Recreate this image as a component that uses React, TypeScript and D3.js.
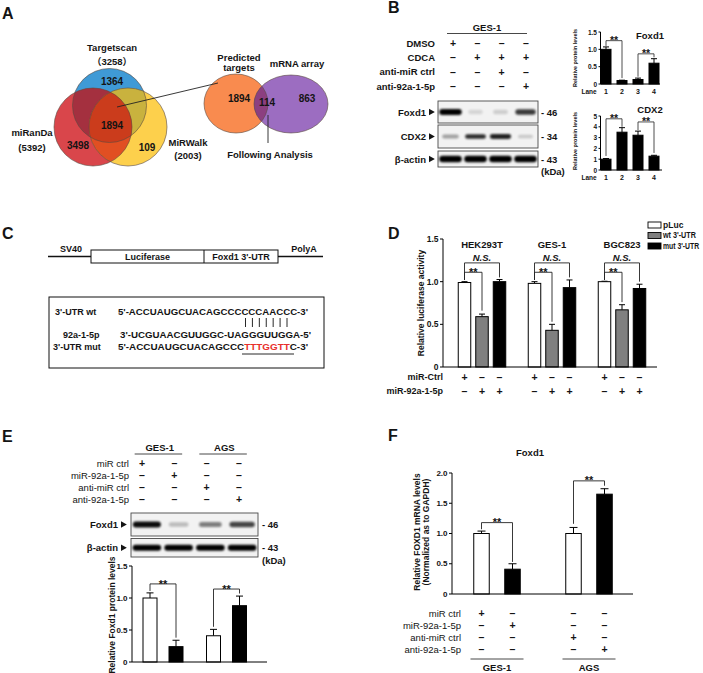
import React from 'react';
import * as d3 from 'd3';

const FF = "'Liberation Sans', Arial, Helvetica, 'Noto Sans CJK SC', sans-serif";
const INK = '#141414';

// ---------------- DATA ----------------
// Panel A
const vennLabels = ['Targetscan', 'miRanDa', 'MiRWalk'];
const vennTotals = ['（3258）', '(5392)', '(2003)'];
const vennRegionCounts = [1364, 3498, 109, 1894]; // TS only, miRanDa only, MiRWalk only, common
const secondVennLabels = ['Predicted', 'targets', 'mRNA array'];
const secondVennCounts = [1894, 114, 863];
const followText = 'Following Analysis';

// Panel B
const bLanes = [1, 2, 3, 4];
const bRows = ['DMSO', 'CDCA', 'anti-miR ctrl', 'anti-92a-1-5p'];
const bSigns = [
  ['+', '–', '–', '–'],
  ['–', '+', '+', '+'],
  ['–', '–', '+', '–'],
  ['–', '–', '–', '+'],
];
const bBlotLabels = ['Foxd1', 'CDX2', 'β-actin'];
const bBlotKda = ['- 46', '- 34', '- 43'];
const bBandFoxd1 = [1.0, 0.07, 0.1, 0.75];
const bBandCdx2 = [0.3, 0.8, 0.85, 0.12];
const bBandActin = [1, 1, 1, 1];
const bFoxd1Mean = [1.0, 0.1, 0.13, 0.6];
const bFoxd1Err = [0.07, 0.01, 0.04, 0.13];
const bFoxd1Ticks = [0, 0.5, 1.0, 1.5];
const bCdx2Mean = [1.0, 3.5, 3.22, 1.28];
const bCdx2Err = [0.06, 0.42, 0.38, 0.08];
const bCdx2Ticks = [0, 1, 2, 3, 4, 5];
const bFoxd1Sig = [
  { a: 0, b: 1, level: 1.25, ea: 1.1, eb: 0.17, label: '**' },
  { a: 2, b: 3, level: 0.87, ea: 0.21, eb: 0.77, label: '**' },
];
const bCdx2Sig = [
  { a: 0, b: 1, level: 4.74, ea: 1.3, eb: 4.0, label: '**' },
  { a: 2, b: 3, level: 4.45, ea: 3.7, eb: 1.58, label: '**' },
];

// Panel C
const cConstruct = ['SV40', 'Luciferase', "Foxd1 3'-UTR", 'PolyA'];
const cSeqLabels = ["3'-UTR wt", '92a-1-5p', "3'-UTR mut"];
const cSeqWt = "5'-ACCUAUGCUACAGCCCCCCAACCC-3'";
const cSeqMir = "3'-UCGUAACGUUGGC-UAGGGUUGGA-5'";
const cSeqMut = ["5'-ACCUAUGCUACAGCCC", 'TTTGGTT', "C-3'"];
const cPairs = 7;

// Panel D
const dGroups = ['HEK293T', 'GES-1', 'BGC823'];
const dSeries = ['pLuc', "wt 3'-UTR", "mut 3'-UTR"];
const dFills = ['#ffffff', '#808080', '#000000'];
const dMeans = [
  [0.99, 0.59, 1.0],
  [0.98, 0.43, 0.93],
  [1.0, 0.67, 0.92],
];
const dErrs = [
  [0.01, 0.03, 0.025],
  [0.02, 0.07, 0.09],
  [0.005, 0.06, 0.05],
];
const dTicks = [0, 0.5, 1.0, 1.5];
const dRows = ['miR-Ctrl', 'miR-92a-1-5p'];
const dSigns = [
  ['+', '–', '–'],
  ['–', '+', '+'],
];
const dSigStar = [0.66, 0.53, 0.76];
const dSigNS = [1.05, 1.05, 1.0];

// Panel E
const eCells = ['GES-1', 'AGS'];
const eConds = ['ctrl', 'treat'];
const eRows = ['miR ctrl', 'miR-92a-1-5p', 'anti-miR ctrl', 'anti-92a-1-5p'];
const eSigns = [
  ['+', '–', '–', '–'],
  ['–', '+', '–', '–'],
  ['–', '–', '+', '–'],
  ['–', '–', '–', '+'],
];
const eBlotLabels = ['Foxd1', 'β-actin'];
const eBlotKda = ['- 46', '- 43'];
const eBandFoxd1 = [0.95, 0.18, 0.45, 0.7];
const eBandActin = [1, 1, 1, 1];
const eMeans = [1.0, 0.24, 0.41, 0.88];
const eErrs = [0.08, 0.1, 0.1, 0.15];
const eTicks = [0, 0.5, 1.0, 1.5];
const eSig = [
  { a: 0, b: 1, level: 1.22, ea: 1.11, eb: 0.38, label: '**' },
  { a: 2, b: 3, level: 1.14, ea: 0.55, eb: 1.07, label: '**' },
];

// Panel F
const fMeans = [1.0, 0.41, 1.0, 1.65];
const fErrs = [0.04, 0.09, 0.1, 0.09];
const fTicks = [0, 0.5, 1.0, 1.5, 2.0];
const fSig = [
  { a: 0, b: 1, level: 1.18, ea: 1.07, eb: 0.53, label: '**' },
  { a: 2, b: 3, level: 1.87, ea: 1.16, eb: 1.79, label: '**' },
];
const barFillsWB = ['#ffffff', '#000000', '#ffffff', '#000000'];

// ---------------- HELPERS ----------------
const fmt1 = (t: number) => (t === 0 ? '0' : d3.format('.1f')(t));
const fmtI = (t: number) => d3.format('d')(t);

function T(p: any) {
  const { x, y, s = 9, a = 'middle', w = 'bold', fill = INK, it = false, rot = 0, tl, children } = p;
  return (
    <text
      x={x}
      y={y}
      fontSize={s}
      textAnchor={a}
      fontWeight={w}
      fill={fill}
      fontStyle={it ? 'italic' : 'normal'}
      dominantBaseline="central"
      transform={rot ? `rotate(${rot} ${x} ${y})` : undefined}
      textLength={tl}
      lengthAdjust={tl ? 'spacingAndGlyphs' : undefined}
    >
      {children}
    </text>
  );
}

function YAxis({ x, y, ticks, fmt, s, len = 3 }: any) {
  const [r0, r1] = y.range();
  return (
    <g>
      <line x1={x} x2={x} y1={r0} y2={r1} stroke="#000" strokeWidth={1} />
      {ticks.map((t: number) => (
        <g key={t}>
          <line x1={x - len} x2={x} y1={y(t)} y2={y(t)} stroke="#000" strokeWidth={1} />
          <T x={x - len - 1.5} y={y(t)} s={s} a="end">
            {fmt(t)}
          </T>
        </g>
      ))}
    </g>
  );
}

function Bars({ xs, means, errs, fills, y, w, cap, sw = 1 }: any) {
  return (
    <g>
      {means.map((m: number, i: number) => {
        const x = xs[i];
        const top = y(m);
        const et = y(m + errs[i]);
        return (
          <g key={i}>
            <line x1={x} x2={x} y1={top} y2={et} stroke="#000" strokeWidth={sw} />
            <line x1={x - cap / 2} x2={x + cap / 2} y1={et} y2={et} stroke="#000" strokeWidth={sw} />
            <rect x={x - w / 2} y={top} width={w} height={y(0) - top} fill={fills[i]} stroke="#000" strokeWidth={sw} />
          </g>
        );
      })}
    </g>
  );
}

function Brackets({ sig, xs, y, s = 11, sw = 0.9, ns = 9 }: any) {
  return (
    <g>
      {sig.map((k: any, i: number) => {
        const x1 = xs[k.a];
        const x2 = xs[k.b];
        const yl = y(k.level);
        const isNs = k.label !== '**';
        return (
          <g key={i}>
            <path d={`M${x1},${y(k.ea)}V${yl}H${x2}V${y(k.eb)}`} fill="none" stroke="#222" strokeWidth={sw} />
            {isNs ? (
              <T x={(x1 + x2) / 2} y={yl - ns * 0.55} s={ns} it>
                {k.label}
              </T>
            ) : (
              <T x={(x1 + x2) / 2} y={yl - 1.3 + s * 0.08} s={s}>
                {k.label}
              </T>
            )}
          </g>
        );
      })}
    </g>
  );
}

function Blot({ x0, x1, y0, y1, lanes, bands, bh }: any) {
  const xb = d3.scaleBand<number>().domain(lanes).range([x0, x1]).paddingInner(0.1).paddingOuter(0.05);
  const cy = (y0 + y1) / 2;
  return (
    <g>
      <rect x={x0} y={y0} width={x1 - x0} height={y1 - y0} fill="#f2f2f2" stroke="#4a4a4a" strokeWidth={0.9} />
      {bands.map((v: number, i: number) => {
        const bw = xb.bandwidth() * (0.62 + 0.38 * v);
        const cx = (xb(lanes[i]) as number) + xb.bandwidth() / 2;
        const h = bh * (0.7 + 0.3 * v);
        return (
          <rect key={i} x={cx - bw / 2} y={cy - h / 2} width={bw} height={h} rx={h / 2} fill="#000" opacity={Math.min(1, v * 0.95 + 0.05)} filter="url(#blur)" />
        );
      })}
    </g>
  );
}

function Arrow({ x, y, s = 6 }: any) {
  return <path d={`M${x},${y - s / 2}L${x + s * 0.9},${y}L${x},${y + s / 2}Z`} fill={INK} />;
}

function SignTable({ rows, signs, labelX, ys, xs, s = 9, w = 'bold', ss = 10 }: any) {
  return (
    <g>
      {rows.map((r: string, i: number) => (
        <g key={r}>
          <T x={labelX} y={ys[i]} s={s} a="end" w={w}>
            {r}
          </T>
          {signs[i].map((g: string, j: number) => (
            <T key={j} x={xs[j]} y={ys[i]} s={ss}>
              {g}
            </T>
          ))}
        </g>
      ))}
    </g>
  );
}

// ---------------- PANELS ----------------
function PanelA() {
  const ts = { cx: 109.5, cy: 105.5, r: 37 };
  const mr = { cx: 93, cy: 127, r: 39 };
  const mw = { cx: 128, cy: 127, r: 39 };
  const o1 = { cx: 236, cy: 103.5, rx: 32, ry: 29.5 };
  const o2 = { cx: 291, cy: 104, rx: 37, ry: 29 };
  return (
    <g>
      <defs>
        <clipPath id="cTs"><circle {...ts} /></clipPath>
        <clipPath id="cMr"><circle {...mr} /></clipPath>
        <clipPath id="cO1"><ellipse {...o1} /></clipPath>
      </defs>
      <T x={2} y={13} s={16} a="start">A</T>
      <circle {...ts} fill="#3f9ad6" />
      <circle {...mr} fill="#d9464b" />
      <circle {...mw} fill="#fdd04c" />
      <g clipPath="url(#cTs)">
        <circle {...mr} fill="#a4303f" />
        <circle {...mw} fill="#c9b23e" />
      </g>
      <g clipPath="url(#cMr)">
        <circle {...mw} fill="#e14f22" />
      </g>
      <g clipPath="url(#cTs)">
        <g clipPath="url(#cMr)">
          <circle {...mw} fill="#cb3c1c" />
        </g>
      </g>
      <circle {...ts} fill="none" stroke="#5a4a40" strokeWidth={0.6} />
      <circle {...mr} fill="none" stroke="#5a4a40" strokeWidth={0.6} />
      <circle {...mw} fill="none" stroke="#5a4a40" strokeWidth={0.6} />

      <T x={112} y={47} s={9.5}>{vennLabels[0]}</T>
      <T x={112} y={61} s={9.5}>{vennTotals[0]}</T>
      <T x={32} y={132} s={9.5}>{vennLabels[1]}</T>
      <T x={32} y={147} s={9.5}>{vennTotals[1]}</T>
      <T x={188} y={142} s={9.5}>{vennLabels[2]}</T>
      <T x={188} y={155} s={9.5}>{vennTotals[2]}</T>
      <T x={112} y={81} s={10}>{vennRegionCounts[0]}</T>
      <T x={78} y={145} s={10}>{vennRegionCounts[1]}</T>
      <T x={147} y={147} s={10}>{vennRegionCounts[2]}</T>
      <T x={112} y={125} s={10}>{vennRegionCounts[3]}</T>

      <ellipse {...o1} fill="#f98b4f" />
      <ellipse {...o2} fill="#9c6dc1" />
      <g clipPath="url(#cO1)">
        <ellipse {...o2} fill="#8c3f80" />
      </g>
      <ellipse {...o1} fill="none" stroke="#5a4a40" strokeWidth={0.6} />
      <ellipse {...o2} fill="none" stroke="#5a4a40" strokeWidth={0.6} />
      <line x1={117} y1={107} x2={218} y2={83} stroke="#222" strokeWidth={0.9} />
      <line x1={268} y1={115} x2={268} y2={143} stroke="#222" strokeWidth={0.9} />
      <T x={239} y={57} s={9.5}>{secondVennLabels[0]}</T>
      <T x={239} y={67} s={9.5}>{secondVennLabels[1]}</T>
      <T x={297} y={63} s={9.5}>{secondVennLabels[2]}</T>
      <T x={239} y={98} s={10}>{secondVennCounts[0]}</T>
      <T x={267} y={102} s={10}>{secondVennCounts[1]}</T>
      <T x={307} y={98} s={10}>{secondVennCounts[2]}</T>
      <T x={270} y={154} s={9.5}>{followText}</T>
    </g>
  );
}

function PanelB() {
  const colX = d3.scalePoint<number>().domain(bLanes).range([453, 526]);
  const rowY = d3.scalePoint<string>().domain(bRows).range([43, 86]);
  const blotY = [[101, 123], [125, 148], [151, 167]];
  const blotBands = [bBandFoxd1, bBandCdx2, bBandActin];
  const blotBh = [6, 5, 6.5];
  const laneX = d3.scalePoint<number>().domain(bLanes).range([606, 654]);
  const xs = bLanes.map((l) => laneX(l) as number);
  const yF = d3.scaleLinear().domain([0, 1.5]).range([84, 32]);
  const yC = d3.scaleLinear().domain([0, 5]).range([170, 116]);
  return (
    <g>
      <T x={388} y={7.5} s={16} a="start">B</T>
      <T x={487} y={27} s={9.5}>GES-1</T>
      <line x1={447} x2={527} y1={33.5} y2={33.5} stroke="#333" strokeWidth={0.9} />
      <SignTable rows={bRows} signs={bSigns} labelX={435} ys={bRows.map((r) => rowY(r))} xs={bLanes.map((l) => colX(l))} s={9.5} ss={10.5} />
      {blotY.map((yy, i) => {
        const cy = (yy[0] + yy[1]) / 2;
        return (
          <g key={i}>
            <Blot x0={438} x1={538} y0={yy[0]} y1={yy[1]} lanes={bLanes} bands={blotBands[i]} bh={blotBh[i]} />
            <T x={426} y={cy} s={9.5} a="end">{bBlotLabels[i]}</T>
            <Arrow x={429} y={cy} s={6.5} />
            <T x={541} y={cy} s={9.5} a="start">{bBlotKda[i]}</T>
          </g>
        );
      })}
      <T x={541} y={171} s={9.5} a="start">(kDa)</T>

      {/* Foxd1 chart */}
      <T x={650} y={35} s={9.5}>Foxd1</T>
      <T x={575} y={58} s={5.5} rot={-90}>Relative protein levels</T>
      <Bars xs={xs} means={bFoxd1Mean} errs={bFoxd1Err} fills={['#000', '#000', '#000', '#000']} y={yF} w={10} cap={6} />
      <YAxis x={600.5} y={yF} ticks={bFoxd1Ticks} fmt={fmt1} s={6.5} len={2} />
      <line x1={600.5} x2={660} y1={84} y2={84} stroke="#000" strokeWidth={1} />
      <Brackets sig={bFoxd1Sig} xs={xs} y={yF} s={10.5} sw={0.8} />
      <T x={589} y={91.5} s={6.5}>Lane</T>
      {bLanes.map((l, i) => (
        <T key={l} x={xs[i]} y={91.5} s={7}>{l}</T>
      ))}

      {/* CDX2 chart */}
      <T x={650} y={109} s={9.5}>CDX2</T>
      <T x={575} y={141} s={5.5} rot={-90}>Relative protein levels</T>
      <Bars xs={xs} means={bCdx2Mean} errs={bCdx2Err} fills={['#000', '#000', '#000', '#000']} y={yC} w={10} cap={6} />
      <YAxis x={600.5} y={yC} ticks={bCdx2Ticks} fmt={fmtI} s={6.5} len={2} />
      <line x1={600.5} x2={662} y1={170} y2={170} stroke="#000" strokeWidth={1} />
      <Brackets sig={bCdx2Sig} xs={xs} y={yC} s={10.5} sw={0.8} />
      <T x={589} y={177.5} s={6.5}>Lane</T>
      {bLanes.map((l, i) => (
        <T key={l} x={xs[i]} y={177.5} s={7}>{l}</T>
      ))}
    </g>
  );
}

function PanelC() {
  const pairX = d3.scalePoint<number>().domain(d3.range(cPairs)).range([245.5, 287]);
  return (
    <g>
      <T x={2} y={233} s={16} a="start">C</T>
      <line x1={48} x2={323} y1={256.5} y2={256.5} stroke="#111" strokeWidth={1.4} />
      <rect x={91} y={250} width={187} height={13} fill="#fff" stroke="#111" strokeWidth={1} />
      <line x1={204} x2={204} y1={250} y2={263} stroke="#111" strokeWidth={1} />
      <T x={71} y={248.5} s={9}>{cConstruct[0]}</T>
      <T x={147.5} y={256.8} s={9}>{cConstruct[1]}</T>
      <T x={241} y={257} s={9}>{cConstruct[2]}</T>
      <T x={304} y={248.5} s={9}>{cConstruct[3]}</T>

      <rect x={49} y={297} width={275} height={71} fill="#fff" stroke="#111" strokeWidth={1} />
      <T x={55} y={312} s={9} a="start">{cSeqLabels[0]}</T>
      <T x={118} y={312} s={9} a="start" tl={190}>{cSeqWt}</T>
      {d3.range(cPairs).map((i) => (
        <line key={i} x1={pairX(i)} x2={pairX(i)} y1={318} y2={327} stroke="#111" strokeWidth={0.9} />
      ))}
      <T x={63} y={335} s={9} a="start">{cSeqLabels[1]}</T>
      <T x={120} y={335} s={9} a="start" tl={191}>{cSeqMir}</T>
      <T x={53} y={347} s={9} a="start">{cSeqLabels[2]}</T>
      <text x={118} y={347} fontSize={9} fontWeight="bold" fill={INK} dominantBaseline="central" textLength={190} lengthAdjust="spacingAndGlyphs">
        <tspan>{cSeqMut[0]}</tspan>
        <tspan fill="#e8302c">{cSeqMut[1]}</tspan>
        <tspan>{cSeqMut[2]}</tspan>
      </text>
      <line x1={242} x2={294} y1={354} y2={354} stroke="#111" strokeWidth={0.9} />
    </g>
  );
}

function PanelD() {
  const y = d3.scaleLinear().domain([0, 1.5]).range([367, 239]);
  const gx = d3.scalePoint<string>().domain(dGroups).range([482, 622]);
  const sx = d3.scalePoint<string>().domain(dSeries).range([-17.5, 17.5]);
  const legScale = [0.95, 0.8, 0.76];
  return (
    <g>
      <T x={388} y={233} s={16} a="start">D</T>
      {dSeries.map((s, i) => {
        const ly = 225 + i * 10.5;
        return (
          <g key={s}>
            <rect x={648} y={ly - 3} width={13} height={6} fill={dFills[i]} stroke="#000" strokeWidth={0.9} />
            <g transform={`translate(663,${ly}) scale(${legScale[i]},1)`}>
              <T x={0} y={0} s={9} a="start">{s}</T>
            </g>
          </g>
        );
      })}
      <T x={421} y={303} s={8.5} rot={-90}>Relative luciferase activity</T>
      {dGroups.map((g, gi) => {
        const xs = dSeries.map((s) => (gx(g) as number) + (sx(s) as number));
        const sig = [
          { a: 0, b: 1, level: 1.11, ea: 1.02, eb: dSigStar[gi], label: '**' },
          { a: 0, b: 2, level: 1.22, ea: 1.02, eb: dSigNS[gi], label: 'N.S.' },
        ];
        return (
          <g key={g}>
            <T x={gx(g)} y={244} s={9.5}>{g}</T>
            <Bars xs={xs} means={dMeans[gi]} errs={dErrs[gi]} fills={dFills} y={y} w={12.5} cap={6} />
            <Brackets sig={sig} xs={xs} y={y} s={11} sw={0.9} ns={9.5} />
            {dRows.map((r, ri) =>
              dSigns[ri].map((sg, j) => (
                <T key={r + j} x={xs[j]} y={377 + ri * 14} s={10.5}>{sg}</T>
              ))
            )}
          </g>
        );
      })}
      <YAxis x={443} y={y} ticks={dTicks} fmt={fmt1} s={8.5} />
      <line x1={443} x2={657} y1={367} y2={367} stroke="#000" strokeWidth={1} />
      {dRows.map((r, ri) => (
        <T key={r} x={443} y={377 + ri * 14} s={9} a="end">{r}</T>
      ))}
    </g>
  );
}

function PanelE() {
  const lanes = [0, 1, 2, 3];
  const colX = d3.scalePoint<number>().domain(lanes).range([142, 239]);
  const rowY = d3.scalePoint<string>().domain(eRows).range([463, 499]);
  const y = d3.scaleLinear().domain([0, 1.5]).range([662, 566]);
  const gx = d3.scalePoint<string>().domain(eCells).range([163, 226.5]);
  const cx = d3.scalePoint<string>().domain(eConds).range([-13, 13]);
  const xs = eCells.flatMap((g) => eConds.map((c) => (gx(g) as number) + (cx(c) as number)));
  const blotY = [[513, 536], [538.5, 557]];
  const blotBands = [eBandFoxd1, eBandActin];
  return (
    <g>
      <T x={2} y={436} s={16} a="start">E</T>
      {eCells.map((c, i) => {
        const mid = ((colX(i * 2) as number) + (colX(i * 2 + 1) as number)) / 2;
        return (
          <g key={c}>
            <T x={mid + 1.5} y={447} s={9.5}>{c}</T>
            <line x1={mid - 23.5} x2={mid + 24} y1={454} y2={454} stroke="#333" strokeWidth={0.9} />
          </g>
        );
      })}
      <SignTable rows={eRows} signs={eSigns} labelX={129} ys={eRows.map((r) => rowY(r))} xs={lanes.map((l) => colX(l))} s={9.5} w="normal" ss={10.5} />
      {blotY.map((yy, i) => {
        const cyy = (yy[0] + yy[1]) / 2;
        return (
          <g key={i}>
            <Blot x0={131} x1={258} y0={yy[0]} y1={yy[1]} lanes={lanes} bands={blotBands[i]} bh={6} />
            <T x={118} y={cyy} s={9.5} a="end">{eBlotLabels[i]}</T>
            <Arrow x={121} y={cyy} s={6.5} />
            <T x={262} y={cyy} s={9.5} a="start">{eBlotKda[i]}</T>
          </g>
        );
      })}
      <T x={262} y={560} s={9.5} a="start">(kDa)</T>
      <T x={111.5} y={615} s={8.5} rot={-90}>Relative Foxd1 protein levels</T>
      <Bars xs={xs} means={eMeans} errs={eErrs} fills={barFillsWB} y={y} w={14} cap={7} />
      <YAxis x={132} y={y} ticks={eTicks} fmt={fmt1} s={8} />
      <line x1={132} x2={267} y1={662} y2={662} stroke="#000" strokeWidth={1} />
      <Brackets sig={eSig} xs={xs} y={y} s={11} sw={0.9} />
    </g>
  );
}

function PanelF() {
  const y = d3.scaleLinear().domain([0, 2]).range([594, 473]);
  const gx = d3.scalePoint<string>().domain(eCells).range([497, 589]);
  const cx = d3.scalePoint<string>().domain(eConds).range([-15.5, 15.5]);
  const xs = eCells.flatMap((g) => eConds.map((c) => (gx(g) as number) + (cx(c) as number)));
  const rowY = d3.scalePoint<string>().domain(eRows).range([613, 649]);
  return (
    <g>
      <T x={388} y={435.5} s={16} a="start">F</T>
      <T x={530} y={452} s={9.5}>Foxd1</T>
      <T x={416.5} y={532} s={8.5} rot={-90}>Relative FOXD1 mRNA levels</T>
      <T x={425.5} y={532} s={8.5} rot={-90}>(Normalized as to GAPDH)</T>
      <Bars xs={xs} means={fMeans} errs={fErrs} fills={barFillsWB} y={y} w={15.5} cap={8} />
      <YAxis x={452} y={y} ticks={fTicks} fmt={fmt1} s={8} />
      <line x1={452} x2={633} y1={594} y2={594} stroke="#000" strokeWidth={1} />
      <Brackets sig={fSig} xs={xs} y={y} s={11} sw={0.9} />
      <SignTable rows={eRows} signs={eSigns} labelX={461} ys={eRows.map((r) => rowY(r))} xs={xs} s={9.5} w="normal" ss={10.5} />
      {eCells.map((c) => (
        <g key={c}>
          <line x1={(gx(c) as number) - 26.5} x2={(gx(c) as number) + 26.5} y1={659} y2={659} stroke="#333" strokeWidth={0.9} />
          <T x={gx(c)} y={667} s={9.5}>{c}</T>
        </g>
      ))}
    </g>
  );
}

export default function App() {
  return (
    <svg
      width={703}
      height={673}
      viewBox="0 0 703 673"
      style={{ position: 'absolute', left: 0, top: 0, background: '#fff' }}
      fontFamily={FF}
    >
      <defs>
        <filter id="blur" x="-30%" y="-100%" width="160%" height="300%">
          <feGaussianBlur stdDeviation="0.9" />
        </filter>
      </defs>
      <rect x={0} y={0} width={703} height={673} fill="#fff" />
      <PanelA />
      <PanelB />
      <PanelC />
      <PanelD />
      <PanelE />
      <PanelF />
    </svg>
  );
}
